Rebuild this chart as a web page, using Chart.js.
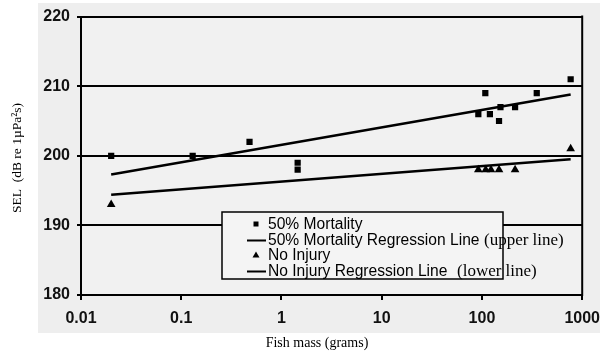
<!DOCTYPE html>
<html>
<head>
<meta charset="utf-8">
<script src="https://cdn.jsdelivr.net/npm/chart.js@4.4.1/dist/chart.umd.min.js"></script>
<style>
  html, body { margin: 0; padding: 0; background: #ffffff; }
  canvas { display: block; }
</style>
</head>
<body>
<canvas id="chart" width="609" height="354"></canvas>
<script>
// Fish mass (grams) and sound exposure level (dB re 1µPa²s)
const mortalityMass = [0.02, 0.13, 0.48, 1.45, 1.45, 92, 108, 120, 148, 153, 214, 352, 767];
const mortalitySEL  = [200, 200, 202, 199, 198, 206, 209, 206, 205, 207, 207, 209, 211];

const noInjuryMass = [0.02, 92, 109, 123, 148, 214, 767];
const noInjurySEL  = [193, 198, 198, 198, 198, 198, 201];

// Regression lines (straight in log-mass), given at their end masses
const regressionMass = [0.02, 767];
const mortalityRegression = [197.3, 208.8];
const noInjuryRegression  = [194.4, 199.5];

const massTicks = [0.01, 0.1, 1, 10, 100, 1000];
const massTickLabels = ['0.01', '0.1', '1', '10', '100', '1000'];
const selTicks = [180, 190, 200, 210, 220];

const legendLabels = [
  '50% Mortality',
  '50% Mortality Regression Line',
  'No Injury',
  'No Injury Regression Line'
];
const legendNotes = ['(upper line)', '(lower line)'];

const xAxisTitle = 'Fish mass (grams)';
const yAxisTitle = 'SEL  (dB re 1µPa²s)';

const pairs = (xs, ys) => xs.map((x, i) => ({ x: x, y: ys[i] }));

const SANS = '"Liberation Sans", Arial, sans-serif';
const SERIF = '"Liberation Serif", "Times New Roman", serif';

const framePlugin = {
  id: 'frame',
  beforeDraw(chart) {
    const ctx = chart.ctx;
    const a = chart.chartArea;
    ctx.save();
    ctx.fillStyle = '#eeeeee';
    ctx.fillRect(38, 3, 562, 330);
    ctx.fillStyle = '#f1f1f1';
    ctx.fillRect(a.left, a.top, a.right - a.left, a.bottom - a.top);
    ctx.restore();
  },
  afterDraw(chart) {
    const ctx = chart.ctx;
    const a = chart.chartArea;
    ctx.save();
    // right edge of the plot box
    ctx.strokeStyle = '#000';
    ctx.lineWidth = 2;
    ctx.beginPath();
    ctx.moveTo(a.right, a.top - 1);
    ctx.lineTo(a.right, a.bottom + 1);
    ctx.stroke();

    // legend box
    const lx = 222, ly = 212, lw = 281, lh = 67;
    ctx.fillStyle = '#f4f4f4';
    ctx.fillRect(lx, ly, lw, lh);
    ctx.lineWidth = 1.5;
    ctx.strokeRect(lx, ly, lw, lh);

    const rows = [224, 239.5, 255, 270.5];
    ctx.fillStyle = '#000';
    ctx.font = '15.6px ' + SANS;
    ctx.textBaseline = 'middle';
    ctx.textAlign = 'left';
    legendLabels.forEach((t, i) => ctx.fillText(t, 268, rows[i] + 1));

    // legend symbols
    ctx.fillRect(253.5, rows[0] - 2.5, 5, 5);
    ctx.beginPath();
    ctx.moveTo(256, rows[2] - 3.5);
    ctx.lineTo(259.5, rows[2] + 2.5);
    ctx.lineTo(252.5, rows[2] + 2.5);
    ctx.closePath();
    ctx.fill();
    ctx.lineWidth = 2;
    [rows[1], rows[3]].forEach(y => {
      ctx.beginPath();
      ctx.moveTo(247, y + 1);
      ctx.lineTo(266, y + 1);
      ctx.stroke();
    });

    // notes beside the regression entries
    ctx.font = '17px ' + SERIF;
    ctx.fillText(legendNotes[0], 484, rows[1] + 1);
    ctx.fillText(legendNotes[1], 457, rows[3] + 1);

    // axis titles
    ctx.font = '14px ' + SERIF;
    ctx.textAlign = 'center';
    ctx.fillText(xAxisTitle, 317, 343);
    ctx.save();
    ctx.translate(17, 158);
    ctx.rotate(-Math.PI / 2);
    ctx.font = '13.5px ' + SERIF;
    ctx.fillText(yAxisTitle, 0, 0);
    ctx.restore();

    // right margin of the figure
    ctx.fillStyle = '#ffffff';
    ctx.fillRect(600, 0, 9, 354);
    ctx.restore();
  }
};

new Chart(document.getElementById('chart'), {
  type: 'scatter',
  data: {
    datasets: [
      {
        label: legendLabels[1],
        data: pairs(regressionMass, mortalityRegression),
        showLine: true,
        borderColor: '#000',
        borderWidth: 2.5,
        pointRadius: 0,
        order: 2
      },
      {
        label: legendLabels[3],
        data: pairs(regressionMass, noInjuryRegression),
        showLine: true,
        borderColor: '#000',
        borderWidth: 2.5,
        pointRadius: 0,
        order: 2
      },
      {
        label: legendLabels[0],
        data: pairs(mortalityMass, mortalitySEL),
        pointStyle: 'rect',
        pointRadius: 4.4,
        backgroundColor: '#000',
        borderColor: '#000',
        borderWidth: 0,
        order: 1
      },
      {
        label: legendLabels[2],
        data: pairs(noInjuryMass, noInjurySEL),
        pointStyle: 'triangle',
        pointRadius: 5,
        backgroundColor: '#000',
        borderColor: '#000',
        borderWidth: 0,
        order: 1
      }
    ]
  },
  options: {
    responsive: false,
    animation: false,
    devicePixelRatio: 1,
    layout: { padding: { left: 0, top: 16, right: 26, bottom: 0 } },
    plugins: {
      legend: { display: false },
      tooltip: { enabled: false }
    },
    scales: {
      x: {
        type: 'logarithmic',
        min: 0.01,
        max: 1000,
        afterBuildTicks(scale) {
          scale.ticks = massTicks.map(v => ({ value: v }));
        },
        afterFit(scale) { scale.height = 59; },
        grid: {
          drawOnChartArea: false,
          drawTicks: true,
          tickLength: 5,
          color: '#000',
          lineWidth: 2
        },
        border: { display: true, color: '#000', width: 2 },
        ticks: {
          autoSkip: false,
          maxRotation: 0,
          padding: 9,
          color: '#111',
          font: { family: SANS, size: 16, weight: 'bold' },
          callback(value) {
            const i = massTicks.findIndex(t => Math.abs(t - value) < t * 1e-6);
            return i >= 0 ? massTickLabels[i] : '';
          }
        }
      },
      y: {
        min: 180,
        max: 220,
        afterBuildTicks(scale) {
          scale.ticks = selTicks.map(v => ({ value: v }));
        },
        afterFit(scale) { scale.width = 81; },
        grid: {
          color: '#000',
          lineWidth: 2,
          tickLength: 4
        },
        border: { display: true, color: '#000', width: 2 },
        ticks: {
          padding: 7,
          color: '#111',
          font: { family: SANS, size: 16, weight: 'bold' }
        }
      }
    }
  },
  plugins: [framePlugin]
});
</script>
</body>
</html>
